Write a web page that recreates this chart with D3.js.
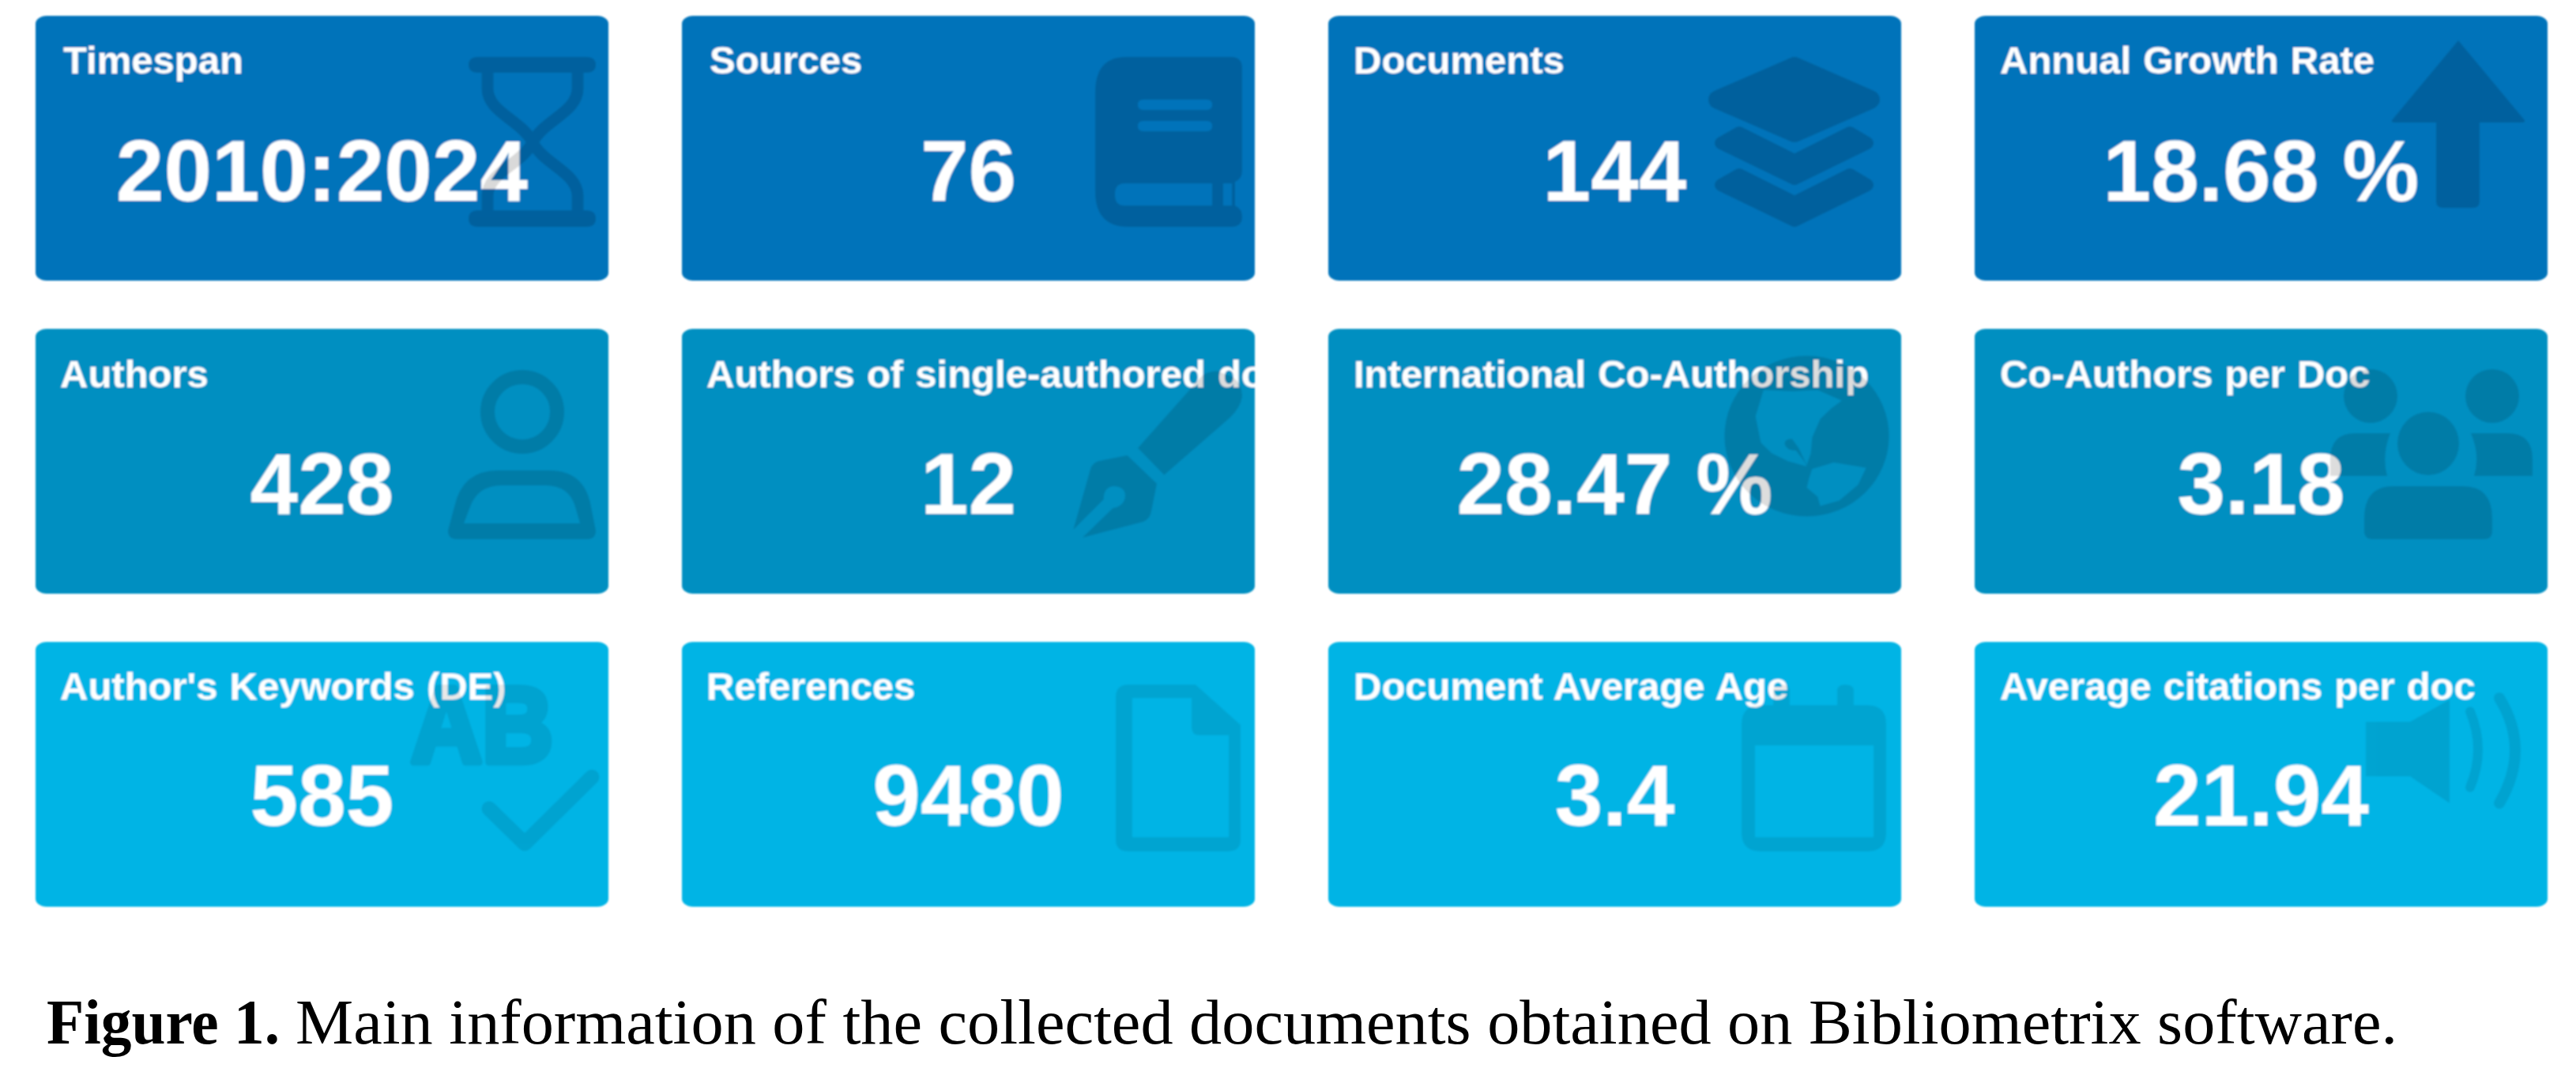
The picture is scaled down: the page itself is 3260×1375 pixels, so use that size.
<!DOCTYPE html>
<html><head><meta charset="utf-8">
<script src="https://cdn.jsdelivr.net/npm/d3@7"></script>
<style>html,body{margin:0;padding:0;background:#fff}svg{display:block}</style>
</head><body><div id="chart"></div>
<script>
// ---- data ----
const titles = ["Timespan","Sources","Documents","Annual Growth Rate",
  "Authors","Authors of single-authored docs","International Co-Authorship","Co-Authors per Doc",
  "Author's Keywords (DE)","References","Document Average Age","Average citations per doc"];
const values = ["2010:2024","76","144","18.68 %","428","12","28.47 %","3.18","585","9480","3.4","21.94"];
const iconNames = ["hourglass","book","layers","arrow","person","pen","globe","people","keywords","file","calendar","speaker"];
const rowColors = ["#0073BA","#008FC1","#02B4E5"];
const captionBold = "Figure 1.";
const captionText = "Main information of the collected documents obtained on Bibliometrix software.";

// ---- layout ----
const W = 3260, H = 1375, cardW = 725, cardH = 335;
const xCol = d3.scaleLinear().domain([0,3]).range([45,2499]);
const yRow = d3.scaleLinear().domain([0,2]).range([20,812]);
const titleBase = [73,74,73], valueBase = [234,234,232], iconAlpha = [0.15,0.13,0.085];
const titleX = (c,r) => c < 2 ? (r === 0 ? 35 : 31) : 32;

// ---- icons, in card-local units ----
const icons = {
  hourglass: g => {
    g.append("path").attr("d","M560 52H697Q709 52 709 62Q709 72 697 72H560Q548 72 548 62Q548 52 560 52ZM560 246H697Q709 246 709 256.500Q709 267 697 267H560Q548 267 548 256.500Q548 246 560 246Z");
    g.append("path").attr("fill","none").attr("stroke","#000").attr("stroke-width",15)
      .attr("d","M572 72V92C572 122 615 132 629 160C643 188 686 198 686 228V246M686 72V92C686 122 643 132 629 160C615 188 572 198 572 228V246");
  },
  book: g => g.append("path").attr("fill-rule","evenodd")
    .attr("d","M562 52H695Q709 52 709 66V196Q709 206 700 210V240Q709 244 709 254Q709 267 695 267H565Q523 267 523 222V97Q523 52 562 52Z M584 106H664Q671 106 671 112.500Q671 119 664 119H584Q577 119 577 112.500Q577 106 584 106Z M584 133H664Q671 133 671 139.500Q671 146 664 146H584Q577 146 577 139.500Q577 133 584 133Z M560 212H671V240H560Q548 240 548 226Q548 212 560 212Z M685 212H696V240H685Z"),
  layers: g => {
    g.attr("stroke","#000").attr("stroke-linejoin","round");
    g.append("path").attr("stroke-width",24).attr("d","M590 64L686 106L590 148L493 106Z");
    g.append("path").attr("stroke-width",16).attr("d","M497 161L520 148L590 183L660 148L682 161L590 206Z");
    g.append("path").attr("stroke-width",16).attr("d","M497 214L520 201L590 236L660 201L682 214L590 259Z");
  },
  arrow: g => g.append("path").attr("d","M612 31L696 132Q697 135 693 135H639V235Q639 243 630 243H593Q584 243 584 235V135H531Q527 135 528 132Z"),
  person: g => {
    g.append("ellipse").attr("cx",616).attr("cy",105).attr("rx",44).attr("ry",44)
      .attr("fill","none").attr("stroke","#000").attr("stroke-width",18);
    g.append("path").attr("fill-rule","evenodd")
      .attr("d","M522 255L530 225Q540 179 585 179H650Q695 179 703 225L709 255Q709 266 698 266H533Q522 266 522 255Z M542 246H689L683 225Q675 198 645 198H590Q560 198 550 225Z");
  },
  pen: g => g.append("g").attr("transform","translate(477,24) scale(.3333)").call(s => {
    s.append("path").attr("d","M300 380L540 110Q560 90 600 88L660 110Q700 140 695 190Q690 225 650 265L400 482Z");
    s.append("path").attr("d","M260 408L372 515L350 625Q345 650 320 660L90 720L205 608Q250 600 252 560Q250 525 205 525Q170 530 170 575L55 690L120 460Q125 440 150 430Z");
  }),
  globe: g => g.append("g").attr("transform","translate(469,4) scale(.3413,.3333)").append("path").attr("fill-rule","evenodd")
    .attr("d","M95 395A305 305 0 1 0 705 395A305 305 0 1 0 95 395Z M240 220L350 225L440 220L530 260L490 290L450 330L420 400L415 460L400 505L370 440L345 405Q318 405 318 425Q325 450 360 450L390 490L400 510L330 490L270 460L230 420L210 320Z M420 520L500 495L620 515L590 580L520 640L450 660L440 625L400 590L410 550Z"),
  people: g => {
    [[501,85,34,34],[655,85,34,34],[574,145,39,40]].forEach(e =>
      g.append("ellipse").attr("cx",e[0]).attr("cy",e[1]).attr("rx",e[2]).attr("ry",e[3]));
    g.append("path").attr("d","M450 186V165Q450 132 482 132H526Q515 160 522 186Z M706 186V165Q706 132 674 132H628Q640 160 632 186Z M493 255V240Q493 199 530 199H618Q655 199 655 240V255Q655 266 645 266H503Q493 266 493 255Z");
  },
  keywords: g => {
    g.append("text").attr("x",475).attr("y",152).attr("font-family","Liberation Sans").attr("font-weight",700)
      .attr("font-size",135).attr("textLength",180).attr("lengthAdjust","spacingAndGlyphs")
      .attr("stroke","#000").attr("stroke-width",9).attr("stroke-linejoin","round").attr("fill","#000").text("AB");
    g.append("path").attr("fill","none").attr("stroke","#000").attr("stroke-width",19).attr("stroke-linecap","round")
      .attr("stroke-linejoin","round").attr("d","M574 211L619 255L704 171");
  },
  file: g => g.append("path").attr("fill-rule","evenodd")
    .attr("d","M565 54H650L707 105V250Q707 265 690 265H565Q549 265 549 250V70Q549 54 565 54Z M570 71V247H692V118H655Q645 118 645 108V71Z"),
  calendar: g => g.append("path").attr("fill-rule","evenodd")
    .attr("d","M548 80H563V62Q563 54 573 54Q584 54 584 62V80H644V62Q644 54 654 54Q665 54 665 62V80H682Q706 80 706 104V241Q706 265 682 265H548Q523 265 523 241V104Q523 80 548 80Z M540 131V247H690V131Z"),
  speaker: g => {
    g.append("path").attr("d","M495 101H551L601 73V204L551 170H495Z");
    g.append("path").attr("fill","none").attr("stroke","#000").attr("stroke-width",12).attr("stroke-linecap","round")
      .attr("d","M627 88Q647 136 627 184");
    g.append("path").attr("fill","none").attr("stroke","#000").attr("stroke-width",14).attr("stroke-linecap","round")
      .attr("d","M664 71Q704 136 664 204");
  }
};

// ---- draw ----
const svg = d3.select("#chart").append("svg").attr("width",W).attr("height",H).attr("viewBox",`0 0 ${W} ${H}`);
const defs = svg.append("defs");
[["soft",1.0],["softer",0.5]].forEach(([id,s]) =>
  defs.append("filter").attr("id",id).attr("filterUnits","userSpaceOnUse")
    .attr("x",0).attr("y",0).attr("width",W).attr("height",H)
    .append("feGaussianBlur").attr("stdDeviation",s));
svg.append("rect").attr("width",W).attr("height",H).attr("fill","#fff");

const board = svg.append("g").attr("filter","url(#soft)");
const cards = board.selectAll("g.card").data(titles.map((t,i) => ({
    title:t, value:values[i], icon:iconNames[i], col:i%4, row:Math.floor(i/4), i
  }))).join("g").attr("class","card")
  .attr("transform",d => `translate(${xCol(d.col)},${yRow(d.row)})`);

cards.each(function(d){
  const g = d3.select(this);
  defs.append("clipPath").attr("id","c"+d.i).append("rect")
    .attr("width",cardW).attr("height",cardH).attr("rx",14).attr("ry",10);
  const inner = g.append("g").attr("clip-path",`url(#c${d.i})`);
  inner.append("rect").attr("width",cardW).attr("height",cardH).attr("fill",rowColors[d.row]);
  inner.append("text").attr("x",titleX(d.col,d.row)).attr("y",titleBase[d.row])
    .attr("font-family","Liberation Sans, Arial, sans-serif").attr("font-weight",700)
    .attr("font-size",49).attr("word-spacing",1.5).attr("fill","#fff").text(d.title);
  inner.append("text").attr("x",cardW/2).attr("y",valueBase[d.row]).attr("text-anchor","middle")
    .attr("font-family","Liberation Sans, Arial, sans-serif").attr("font-weight",700)
    .attr("font-size",109).attr("fill","#fff").text(d.value);
  // the watermark icon lies over the text, as in the reference
  const ic = inner.append("g").attr("opacity",iconAlpha[d.row]).attr("fill","#000");
  icons[d.icon](ic);
});

const cap = svg.append("text").attr("x",59).attr("y",1320).attr("filter","url(#softer)")
  .attr("font-family","Liberation Serif, serif").attr("font-size",80).attr("fill","#000");
cap.append("tspan").attr("font-weight",700).attr("textLength",295).attr("lengthAdjust","spacingAndGlyphs").text(captionBold);
cap.append("tspan").attr("x",374).attr("textLength",2660).attr("lengthAdjust","spacingAndGlyphs").text(captionText);
</script>
</body></html>
